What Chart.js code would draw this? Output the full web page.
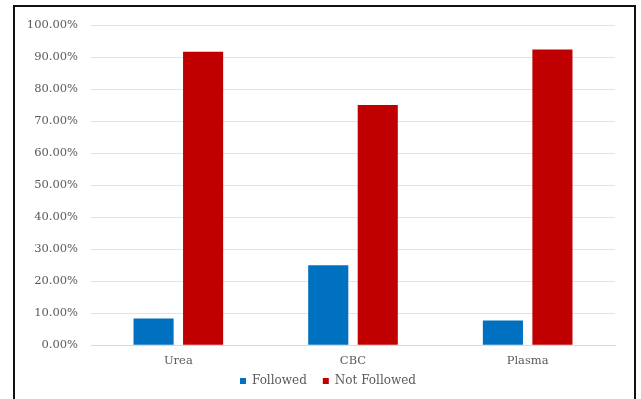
<!DOCTYPE html>
<html><head><meta charset="utf-8">
<script src="https://cdn.jsdelivr.net/npm/chart.js@4"></script>
<style>
html,body{margin:0;padding:0;background:#fff;}
#wrap{position:relative;width:641px;height:399px;}
#frame{position:absolute;left:13px;top:5px;width:619px;height:410px;border:2px solid #111;pointer-events:none;}
canvas{position:absolute;left:0;top:0;}
</style></head>
<body><div id="wrap"><canvas id="c" width="641" height="399"></canvas><div id="frame"></div></div>
<script>
const categories = ["Urea", "CBC", "Plasma"];
const followed = [8.33, 25.0, 7.69];
const notFollowed = [91.67, 75.0, 92.31];
const seriesNames = ["Followed", "Not Followed"];

const txt = '#595959';
const fontFam = '"DejaVu Serif", "Liberation Serif", serif';
const legendFix = {
  id: 'legendFix',
  beforeLayout(chart) {
    const lg = chart.legend;
    if (lg && !lg._patched) {
      const f = lg.fit;
      lg.fit = function () { f.call(this); this.height = 30; };
      lg._patched = true;
    }
  },
  afterLayout(chart) {
    const lg = chart.legend;
    if (!lg) return;
    lg.top = 359; lg.bottom = 399;
    lg.left += 13; lg.right += 13;
  }
};
new Chart(document.getElementById('c'), {
  type: 'bar',
  data: {
    labels: categories,
    datasets: [
      {label: seriesNames[0], data: followed, backgroundColor: '#0070C0', categoryPercentage: 0.567, barPercentage: 0.81},
      {label: seriesNames[1], data: notFollowed, backgroundColor: '#C00000', categoryPercentage: 0.567, barPercentage: 0.81}
    ]
  },
  plugins: [legendFix],
  options: {
    responsive: false,
    animation: false,
    layout: {padding: {left: 15, right: 26, top: 25, bottom: 0}},
    plugins: {
      tooltip: {enabled: false},
      legend: {
        position: 'bottom',
        labels: {color: txt, font: {family: fontFam, size: 12}, boxWidth: 6, boxHeight: 6, padding: 16}
      }
    },
    scales: {
      x: {
        grid: {display: false},
        border: {color: '#d9d9d9'},
        ticks: {color: txt, font: {family: fontFam, size: 11.5}, padding: 1}
      },
      y: {
        min: 0, max: 100,
        grid: {color: '#e3e3e3', drawTicks: false},
        border: {display: false},
        ticks: {stepSize: 10, color: txt, font: {family: fontFam, size: 11.5}, padding: 13,
          callback: v => v.toFixed(2) + '%'},
        afterFit: s => { s.width = 76; }
      }
    }
  }
});
</script></body></html>
